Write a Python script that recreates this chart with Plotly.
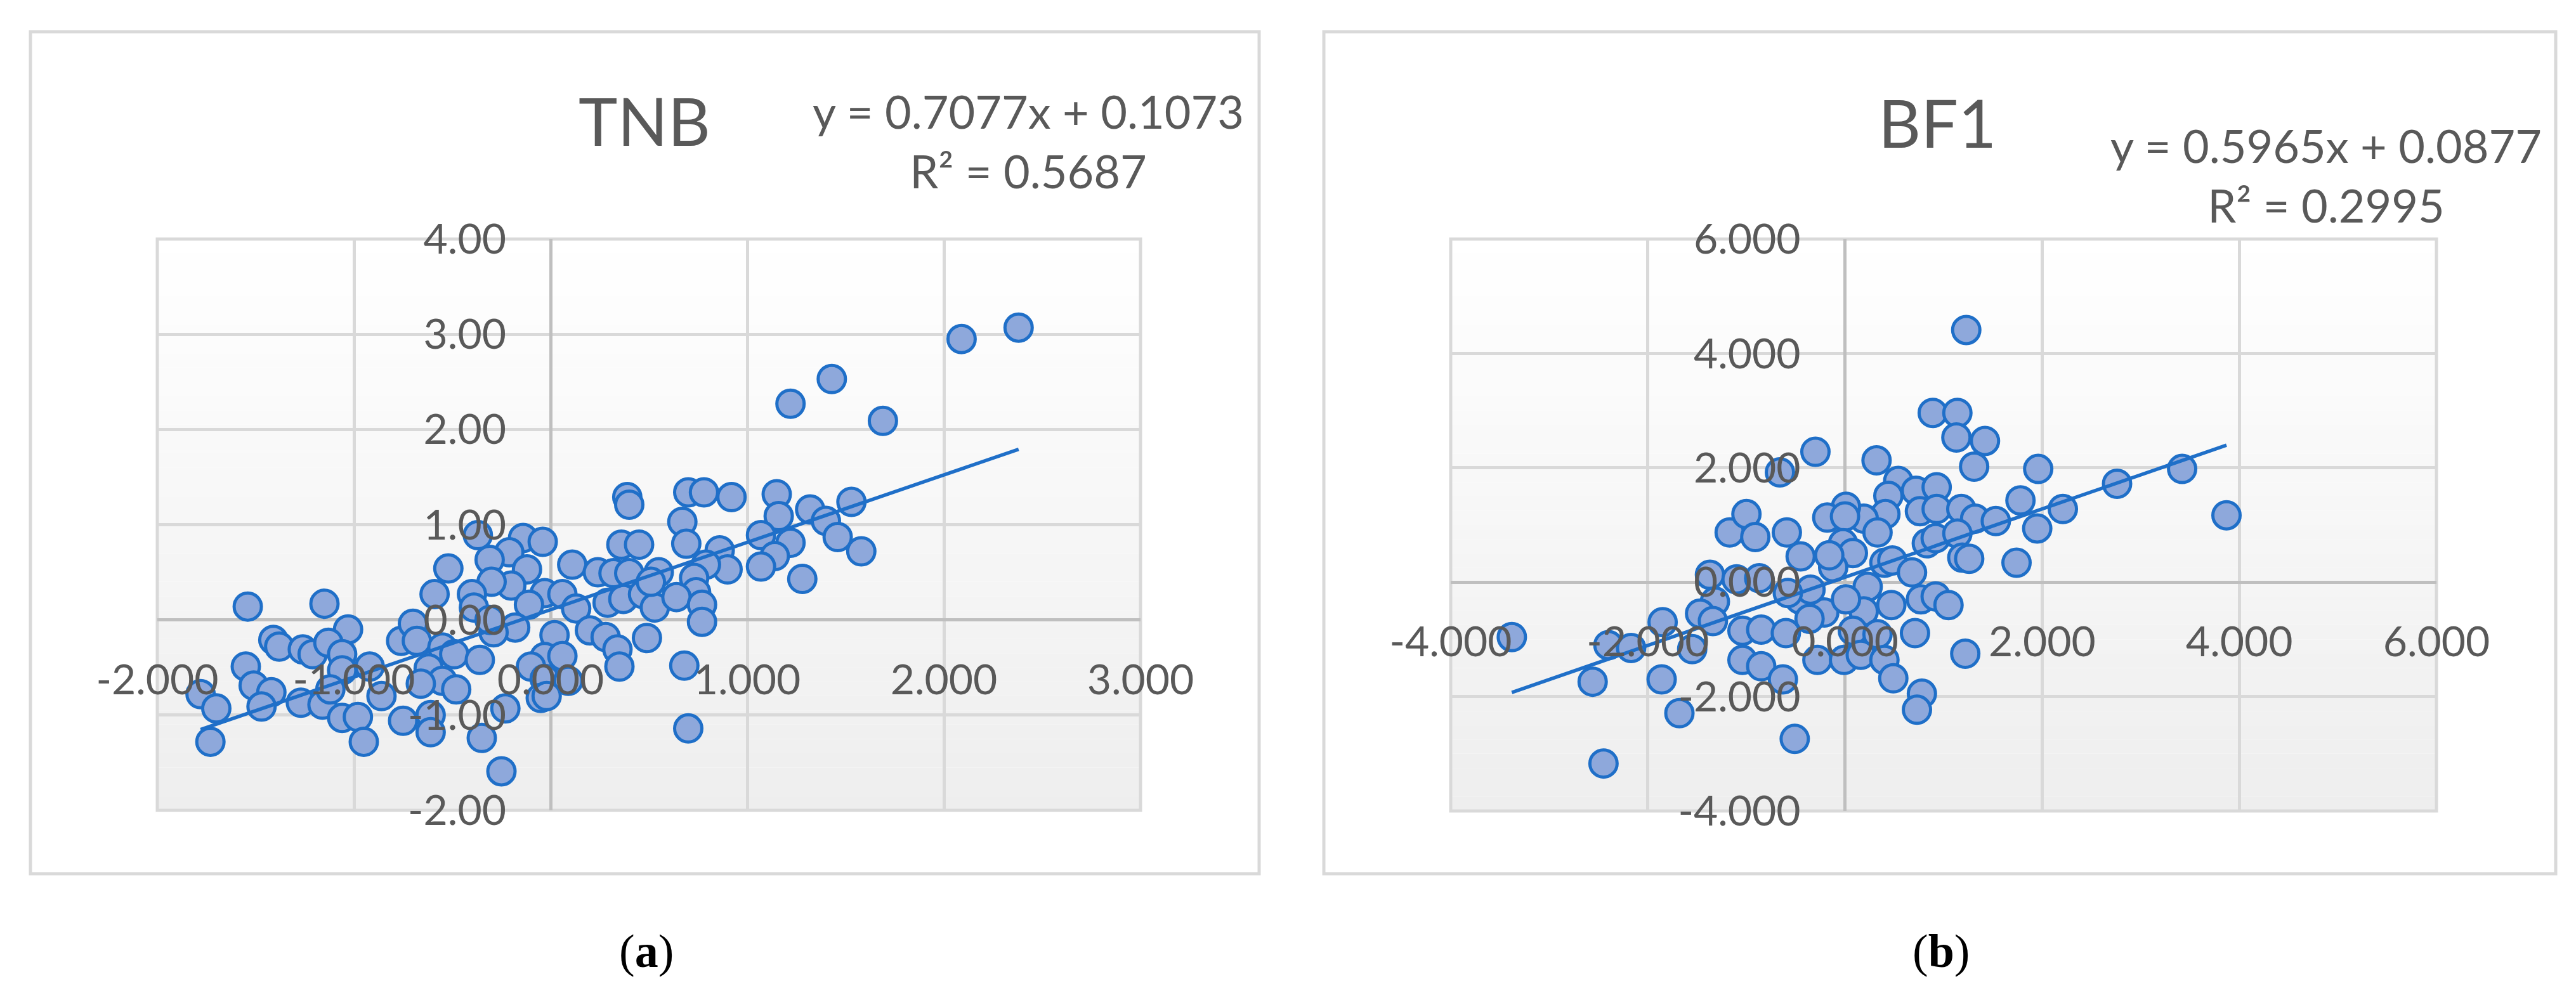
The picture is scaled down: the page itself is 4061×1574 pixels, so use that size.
import plotly.graph_objects as go

# ---------------- data ----------------
TNB_X = [-1.54, -1.15, -1.03, -1.41, -1.38, -1.26, -1.21, -1.13, -1.06, -1.55, -1.51, -1.42, -1.47, -1.78,
         -1.70, -1.73, -1.27, -1.16, -1.06, -0.92, -1.06, -0.98, -0.95, -0.86, -0.75, -0.76, -0.70, -1.12,
         0.39, 0.40, -0.37, -0.14, -0.04, -0.21, -0.31, -0.52, -0.12, -0.20, -0.30, 0.36, 0.45, 0.11,
         0.24, 0.32, 0.40, 0.55, -0.03, -0.11, 0.06, 0.13, 0.29, 0.37, 0.47, 0.53, -0.59, -0.40,
         -0.39, 0.02, 0.20, 0.28, 0.34, 0.35, 0.49, -0.18, -0.29, -0.31, -0.68, -0.55, -0.49, -0.36,
         -0.62, -0.55, -0.48, -0.66, -0.61, -0.61, -0.23, -0.35, -0.25, -0.03, 0.06, -0.10, -0.03, 0.09,
         -0.05, -0.02, 0.51,
         0.70, 0.78, 0.92, 1.15, 1.16, 1.32, 1.40, 1.53, 1.46, 1.58, 0.67, 0.69, 0.86, 0.90,
         1.07, 1.22, 1.14, 1.07, 1.28, 0.79, 0.73, 0.74, 0.64, 0.77, 0.77, 0.68, 0.70,
         1.22, 1.43, 1.69, 2.09, 2.38]
TNB_Y = [0.14, 0.17, -0.10, -0.21, -0.28, -0.31, -0.36, -0.24, -0.36, -0.49, -0.69, -0.76, -0.91, -0.78,
         -0.93, -1.28, -0.87, -0.89, -0.53, -0.49, -1.03, -1.02, -1.28, -0.80, -1.06, -0.22, -0.04, -0.73,
         1.29, 1.21, 0.89, 0.86, 0.82, 0.71, 0.63, 0.54, 0.53, 0.36, 0.40, 0.79, 0.79, 0.58,
         0.50, 0.49, 0.49, 0.50, 0.28, 0.16, 0.27, 0.12, 0.18, 0.22, 0.27, 0.13, 0.27, 0.27,
         0.13, -0.16, -0.11, -0.18, -0.31, -0.49, -0.19, -0.08, -0.13, 0.00, -0.22, -0.29, -0.36, -0.42,
         -0.51, -0.64, -0.73, -0.67, -1.00, -1.18, -0.93, -1.24, -1.59, -0.39, -0.38, -0.49, -0.62, -0.64,
         -0.82, -0.80, 0.40,
         1.34, 1.34, 1.29, 1.32, 1.09, 1.16, 1.04, 1.24, 0.87, 0.72, 1.03, 0.80, 0.73, 0.53,
         0.89, 0.81, 0.67, 0.56, 0.43, 0.58, 0.44, 0.29, 0.24, 0.16, -0.02, -0.48, -1.14,
         2.27, 2.53, 2.09, 2.95, 3.07]

BF1_X = [-3.38, -2.56, -2.45, -2.40, -2.17, -1.85, -1.86, -1.68, -1.55, -1.37, -1.32, -1.47, -1.34, -1.17,
         -1.00, -1.04, -1.04, -1.10,
         0.89, 1.14, 1.13, 1.42, 1.31, -0.30, 0.32, -0.66, 0.54, 0.44, 0.72, 0.93, 0.76, 0.93,
         1.18, 1.32, 1.53, 0.41, 0.19, 0.01, -0.18, 0.00, 0.33, -0.91, -0.59, 0.83, 0.92, 1.14,
         1.19, 1.26, -0.45, -0.02, 0.08, -0.12, -0.16, 0.40, 0.48, 0.68, -0.46, -0.21, -0.36, 0.23,
         0.19, 0.47, 0.77, 0.92, 1.05, 0.71, 1.22, -0.85, -0.60, 0.08, 0.33, -0.28, -0.01, 0.16,
         0.40, 0.49, -0.85, -0.63, 0.78, 0.73, -0.51, -0.87, -0.35, -0.58, 0.01,
         1.96, 1.78, 2.21, 1.95, 1.74, 2.76, 3.42, 3.87, 1.23]
BF1_Y = [-0.96, -1.74, -3.17, -1.10, -1.15, -0.70, -1.70, -2.29, -1.17, 0.13, -0.34, -0.55, -0.68, 0.87,
         1.19, -0.85, -1.36, 0.05,
         2.96, 2.96, 2.53, 2.47, 2.02, 2.28, 2.13, 1.92, 1.77, 1.51, 1.60, 1.66, 1.24, 1.28,
         1.28, 1.11, 1.07, 1.19, 1.11, 1.32, 1.13, 1.15, 0.87, 0.79, 0.87, 0.68, 0.77, 0.85,
         0.43, 0.41, 0.45, 0.68, 0.51, 0.26, 0.47, 0.34, 0.38, 0.17, -0.30, -0.53, -0.64, -0.08,
         -0.51, -0.40, -0.30, -0.25, -0.40, -0.89, -1.25, -0.83, -0.89, -0.85, -0.91, -1.36, -1.36, -1.27,
         -1.36, -1.68, -1.47, -1.70, -1.95, -2.23, -2.74, 0.07, -0.13, -0.19, -0.30,
         1.98, 1.43, 1.28, 0.94, 0.34, 1.72, 1.98, 1.17, 4.41]

TNB_SLOPE, TNB_INTERCEPT, TNB_R2 = 0.7077, 0.1073, 0.5687
BF1_SLOPE, BF1_INTERCEPT, BF1_R2 = 0.5965, 0.0877, 0.2995

TNB_XTICKS = [-2, -1, 0, 1, 2, 3]
TNB_XTEXT = ["-2.000", "-1.000", "0.000", "1.000", "2.000", "3.000"]
TNB_YTICKS = [-2, -1, 0, 1, 2, 3, 4]
TNB_YTEXT = ["-2.00", "-1.00", "0.00", "1.00", "2.00", "3.00", "4.00"]
BF1_XTICKS = [-4, -2, 0, 2, 4, 6]
BF1_XTEXT = ["-4.000", "-2.000", "0.000", "2.000", "4.000", "6.000"]
BF1_YTICKS = [-4, -2, 0, 2, 4, 6]
BF1_YTEXT = ["-4.000", "-2.000", "0.000", "2.000", "4.000", "6.000"]

TITLES = ["TNB", "BF1"]
PANEL_LABELS = ["(<b>a</b>)", "(<b>b</b>)"]

# ---------------- styling ----------------
W, H = 4061, 1574
FONT = "Lato, 'Open Sans', sans-serif"
TXT = "#595959"
GRID = "#D9D9D9"
ZERO = "#BFBFBF"
MFILL = "#8EA8DB"
MLINE = "#1F6FC8"


def px(x):
    return x / W


def py(y):
    return 1 - y / H


panels = [
    dict(xs=TNB_X, ys=TNB_Y, slope=TNB_SLOPE, icpt=TNB_INTERCEPT, r2=TNB_R2,
         xr=[-2, 3], yr=[-2, 4], xt=TNB_XTICKS, xtt=TNB_XTEXT, yt=TNB_YTICKS, ytt=TNB_YTEXT,
         xdom=[px(240), px(1790)], ydom=[py(1270), py(369)],
         title=TITLES[0], tpos=(1008, 182), eqpos=(1613, 214), lab=PANEL_LABELS[0], lpos=(1011, 1492),
         box=(40, 42, 1977, 1370)),
    dict(xs=BF1_X, ys=BF1_Y, slope=BF1_SLOPE, icpt=BF1_INTERCEPT, r2=BF1_R2,
         xr=[-4, 6], yr=[-4, 6], xt=BF1_XTICKS, xtt=BF1_XTEXT, yt=BF1_YTICKS, ytt=BF1_YTEXT,
         xdom=[px(2279), px(3833)], ydom=[py(1271), py(369)],
         title=TITLES[1], tpos=(3046, 184), eqpos=(3659, 268), lab=PANEL_LABELS[1], lpos=(3052, 1492),
         box=(2079, 42, 4021, 1370)),
]

fig = go.Figure()
shapes = []
annotations = []
layout_axes = {}

NSTRIP = 40
for i, p in enumerate(panels):
    sfx = "" if i == 0 else str(i + 1)
    xa, ya = "x" + sfx, "y" + sfx

    fig.add_trace(go.Scatter(x=p["xs"], y=p["ys"], mode="markers", xaxis=xa, yaxis=ya,
                             marker=dict(size=43, color=MFILL, line=dict(color=MLINE, width=5)),
                             showlegend=False, hoverinfo="skip"))
    x0, x1 = min(p["xs"]), max(p["xs"])
    fig.add_trace(go.Scatter(x=[x0, x1], y=[p["slope"] * x0 + p["icpt"], p["slope"] * x1 + p["icpt"]],
                             mode="lines", xaxis=xa, yaxis=ya, line=dict(color=MLINE, width=5.5),
                             showlegend=False, hoverinfo="skip"))

    # zero positions in paper coords for free-anchored axes
    xzero = p["xdom"][0] + (0 - p["xr"][0]) / (p["xr"][1] - p["xr"][0]) * (p["xdom"][1] - p["xdom"][0])
    yzero = p["ydom"][0] + (0 - p["yr"][0]) / (p["yr"][1] - p["yr"][0]) * (p["ydom"][1] - p["ydom"][0])

    common = dict(showgrid=True, gridcolor=GRID, gridwidth=5, zeroline=True, zerolinecolor=ZERO,
                  zerolinewidth=5, showline=False, ticks="", automargin=False,
                  tickfont=dict(family=FONT, size=66, color=TXT), fixedrange=True)
    layout_axes["xaxis" + sfx] = dict(domain=p["xdom"], range=p["xr"], anchor="free", position=yzero,
                                      tickmode="array", tickvals=p["xt"], ticktext=p["xtt"],
                                      ticklabelstandoff=50, **common)
    layout_axes["yaxis" + sfx] = dict(domain=p["ydom"], range=p["yr"], anchor="free", position=xzero,
                                      tickmode="array", tickvals=p["yt"], ticktext=p["ytt"],
                                      ticklabelstandoff=70, **common)

    # gradient background of the plot area
    for k in range(NSTRIP):
        t = (k + 0.5) / NSTRIP  # 0 top -> 1 bottom
        g = int(round(255 - 17 * t))
        shapes.append(dict(type="rect", xref=xa + " domain", yref=ya + " domain",
                           x0=0, x1=1, y0=1 - (k + 1) / NSTRIP, y1=1 - k / NSTRIP,
                           fillcolor=f"rgb({g},{g},{g})", line=dict(width=0), layer="below"))
    # plot area border
    shapes.append(dict(type="rect", xref=xa + " domain", yref=ya + " domain", x0=0, x1=1, y0=0, y1=1,
                       line=dict(color=GRID, width=5), fillcolor="rgba(0,0,0,0)", layer="below"))
    # chart area border
    bx0, by0, bx1, by1 = p["box"]
    shapes.append(dict(type="rect", xref="paper", yref="paper", x0=px(bx0), x1=px(bx1), y0=py(by1), y1=py(by0),
                       line=dict(color=GRID, width=5), fillcolor="rgba(0,0,0,0)", layer="below"))

    annotations.append(dict(text=p["title"], x=px(p["tpos"][0]), y=py(p["tpos"][1]), xref="paper", yref="paper",
                            showarrow=False, xanchor="center", yanchor="middle",
                            font=dict(family=FONT, size=104, color=TXT)))
    eq = f"y = {p['slope']:.4f}x + {p['icpt']:.4f}<br>R² = {p['r2']:.4f}"
    annotations.append(dict(text=eq, x=px(p["eqpos"][0]), y=py(p["eqpos"][1]), xref="paper", yref="paper",
                            showarrow=False, xanchor="center", yanchor="middle", align="center",
                            font=dict(family=FONT, size=72, color=TXT)))
    annotations.append(dict(text=p["lab"], x=px(p["lpos"][0]), y=py(p["lpos"][1]), xref="paper", yref="paper",
                            showarrow=False, xanchor="center", yanchor="middle",
                            font=dict(family="Liberation Serif, serif", size=74, color="#000000")))

fig.update_layout(width=W, height=H, margin=dict(l=0, r=0, t=0, b=0),
                  paper_bgcolor="white", plot_bgcolor="white",
                  shapes=shapes, annotations=annotations, showlegend=False, **layout_axes)

fig.write_html("out.html")
